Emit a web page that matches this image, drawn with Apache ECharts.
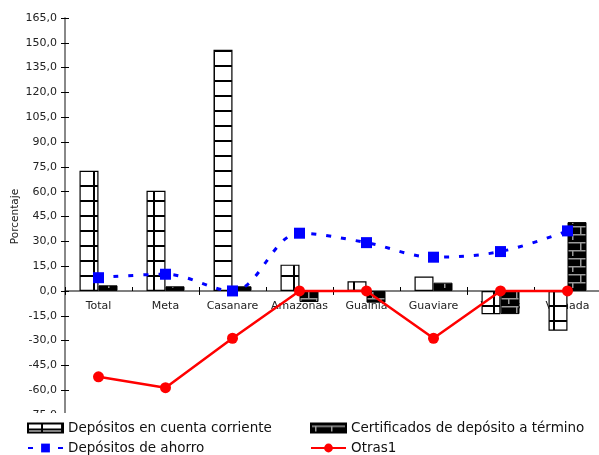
<!DOCTYPE html>
<html>
<head>
<meta charset="utf-8">
<script src="https://cdn.jsdelivr.net/npm/echarts@6/dist/echarts.min.js"></script>
<style>
  html, body { margin: 0; padding: 0; background: #fff; }
  #chart { width: 599px; height: 455px; }
</style>
</head>
<body>
<div id="chart"></div>
<script>
// categories and values
const categories = ['Total', 'Meta', 'Casanare', 'Amazonas', 'Guainia', 'Guaviare', 'Vaupés', 'Vichada'];
const cuentaCorriente = [72.6, 60.5, 145.8, 15.9, 5.9, 8.7, -14.1, -24.0];
const certificados = [3.4, 2.8, 2.8, -6.7, -7.1, 5.0, -14.0, 41.6];
const ahorro = [8.0, 10.1, 0.0, 34.9, 29.2, 20.4, 23.8, 36.3];
const otras = [-51.9, -58.5, -28.6, 0, 0, -28.6, 0, 0];
const seriesNames = ['Depósitos en cuenta corriente', 'Certificados de depósito a término', 'Depósitos de ahorro', 'Otras1'];

const FONT = 'DejaVu Sans';

// brick-like fill patterns for the bars
function makePattern(w, h, bg, fg, draw) {
  const c = document.createElement('canvas');
  c.width = w;
  c.height = h;
  const ctx = c.getContext('2d');
  ctx.fillStyle = bg;
  ctx.fillRect(0, 0, w, h);
  ctx.fillStyle = fg;
  draw(ctx);
  return { image: c, repeat: 'repeat' };
}

const whiteBrick = makePattern(20, 15, '#ffffff', '#000000', function (ctx) {
  ctx.fillRect(0, 5, 20, 2);
  ctx.fillRect(13, 0, 2, 15);
});
const blackBrick = makePattern(16, 16, '#000000', '#9a9a9a', function (ctx) {
  ctx.fillRect(0, 2, 16, 1.5);
  ctx.fillRect(0, 10, 16, 1.5);
  ctx.fillRect(4, 2, 1.5, 8);
  ctx.fillRect(12, 10, 1.5, 8);
});

function fmt(v) {
  return v.toFixed(1).replace('.', ',');
}

const myChart = echarts.init(document.getElementById('chart'));

const yBase = {
  type: 'value',
  min: -75,
  max: 165,
  interval: 15,
  splitLine: { show: false },
  axisLine: { show: true, lineStyle: { color: '#808080', width: 1.5 } },
};

const option = {
  animation: false,
  backgroundColor: '#ffffff',
  textStyle: { fontFamily: FONT },
  grid: [
    // main plot
    { left: 65, top: 18, right: -2, bottom: 40, containLabel: false, outerBoundsMode: 'none' },
    // helper grid whose bottom edge sits on the zero line, carries the category labels
    { left: 65, top: 18, right: -2, bottom: 164, containLabel: false, outerBoundsMode: 'none' },
  ],
  xAxis: [
    {
      type: 'category',
      gridIndex: 0,
      data: categories,
      axisLine: { onZero: true, lineStyle: { color: '#555555', width: 1.5 } },
      axisTick: { show: true, length: 4, lineStyle: { color: '#000' } },
      axisLabel: { show: false },
      splitLine: { show: false },
    },
    {
      type: 'category',
      gridIndex: 1,
      data: categories,
      position: 'bottom',
      axisLine: { show: false, onZero: false },
      axisTick: { show: true, inside: true, length: 4, lineStyle: { color: '#000' } },
      axisLabel: { show: true, color: '#222', fontSize: 11, fontFamily: FONT, margin: 10, interval: 0 },
      splitLine: { show: false },
    },
  ],
  yAxis: [
    Object.assign({}, yBase, {
      gridIndex: 0,
      name: 'Porcentaje',
      nameLocation: 'middle',
      nameGap: 44,
      nameMoveOverlap: false,
      nameTextStyle: { color: '#222', fontSize: 10.5, fontFamily: FONT },
      axisTick: { show: true, length: 4, lineStyle: { color: '#000' } },
      axisLabel: { color: '#222', fontSize: 11, fontFamily: FONT, margin: 8, formatter: fmt },
    }),
    Object.assign({}, yBase, {
      gridIndex: 0,
      position: 'left',
      axisTick: { show: true, inside: true, length: 4, lineStyle: { color: '#000' } },
      axisLabel: { show: false },
    }),
    {
      type: 'value',
      gridIndex: 1,
      min: 0,
      max: 165,
      show: false,
    },
  ],
  legend: [0, 1, 2, 3].map(function (i) {
    return {
      data: [seriesNames[i]],
      left: i % 2 === 0 ? 27 : 310,
      top: i < 2 ? 421 : 441,
      padding: 0,
      itemWidth: 35,
      itemHeight: i < 2 ? 9 : 11,
      itemGap: 0,
      icon: i < 2 ? 'rect' : undefined,
      selectedMode: false,
      z: 200,
      textStyle: { color: '#111', fontSize: 13.5, fontFamily: FONT },
    };
  }),
  graphic: [
    {
      type: 'rect',
      left: 0,
      top: 413,
      shape: { width: 599, height: 42 },
      style: { fill: '#ffffff' },
      z: 100,
      silent: true,
    },
  ],
  series: [
    {
      name: seriesNames[0],
      type: 'bar',
      data: cuentaCorriente,
      barWidth: 19,
      barGap: '0%',
      itemStyle: { color: whiteBrick, borderColor: '#000', borderWidth: 1.2 },
    },
    {
      name: seriesNames[1],
      type: 'bar',
      data: certificados,
      barWidth: 19,
      barGap: '0%',
      itemStyle: { color: blackBrick, borderColor: '#000', borderWidth: 1 },
    },
    {
      name: seriesNames[2],
      type: 'line',
      data: ahorro,
      smooth: 0.35,
      symbol: 'rect',
      symbolSize: 11,
      z: 5,
      lineStyle: { color: '#0000ff', width: 3, type: [5, 10] },
      itemStyle: { color: '#0000ff' },
    },
    {
      name: seriesNames[3],
      type: 'line',
      data: otras,
      smooth: false,
      symbol: 'circle',
      symbolSize: 11,
      z: 6,
      lineStyle: { color: '#ff0000', width: 2.5 },
      itemStyle: { color: '#ff0000' },
    },
  ],
};

myChart.setOption(option);
</script>
</body>
</html>
